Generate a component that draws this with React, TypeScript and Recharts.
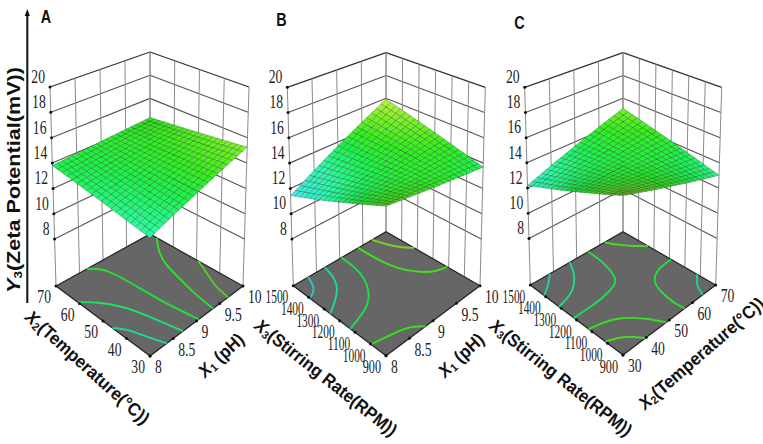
import React from 'react'
import { ScatterChart, Scatter, XAxis, YAxis } from 'recharts'

const W = 763
const H = 444
const Z_FLOOR = 4.3
const Z_TOP = 20

const zTicks = [8, 10, 12, 14, 16, 18, 20]
const phTicks = ['8', '8.5', '9', '9.5', '10']
const tempTicks = ['30', '40', '50', '60', '70']
const rpmTicks = ['900', '1000', '1100', '1200', '1300', '1400', '1500']

// response surface heights, rows go from low to high on the left-hand factor
const surfaceA = [
  [12.80,12.92,13.05,13.17,13.29,13.42,13.54,13.66,13.78,13.91,14.03,14.15,14.28,14.40,14.52,14.65,14.77,14.89,15.01,15.14,15.26],
  [12.85,12.97,13.09,13.20,13.32,13.44,13.56,13.68,13.79,13.91,14.03,14.15,14.27,14.38,14.50,14.62,14.74,14.86,14.97,15.09,15.21],
  [12.90,13.01,13.13,13.24,13.35,13.47,13.58,13.69,13.81,13.92,14.04,14.15,14.26,14.38,14.49,14.60,14.72,14.83,14.94,15.06,15.17],
  [12.95,13.06,13.17,13.28,13.38,13.49,13.60,13.71,13.82,13.93,14.04,14.14,14.25,14.36,14.47,14.58,14.69,14.79,14.90,15.01,15.12],
  [13.00,13.10,13.21,13.31,13.42,13.52,13.62,13.73,13.83,13.94,14.04,14.14,14.25,14.35,14.46,14.56,14.66,14.77,14.87,14.98,15.08],
  [13.05,13.15,13.25,13.35,13.45,13.55,13.64,13.74,13.84,13.94,14.04,14.14,14.24,14.34,14.44,14.54,14.63,14.73,14.83,14.93,15.03],
  [13.10,13.19,13.29,13.38,13.48,13.57,13.67,13.76,13.86,13.95,14.05,14.14,14.23,14.33,14.42,14.52,14.61,14.71,14.80,14.90,14.99],
  [13.15,13.24,13.33,13.42,13.51,13.60,13.69,13.78,13.87,13.96,14.05,14.13,14.22,14.31,14.40,14.49,14.58,14.67,14.76,14.85,14.94],
  [13.20,13.29,13.37,13.46,13.54,13.63,13.71,13.80,13.88,13.97,14.05,14.14,14.22,14.31,14.39,14.48,14.56,14.65,14.73,14.82,14.90],
  [13.25,13.33,13.41,13.49,13.57,13.65,13.73,13.81,13.89,13.97,14.05,14.13,14.21,14.29,14.37,14.45,14.53,14.61,14.69,14.77,14.85],
  [13.30,13.38,13.45,13.53,13.60,13.68,13.75,13.83,13.90,13.98,14.06,14.13,14.21,14.28,14.36,14.43,14.51,14.58,14.66,14.73,14.81],
  [13.35,13.42,13.49,13.56,13.63,13.70,13.77,13.84,13.91,13.98,14.06,14.13,14.20,14.27,14.34,14.41,14.48,14.55,14.62,14.69,14.76],
  [13.40,13.47,13.53,13.60,13.66,13.73,13.79,13.86,13.92,13.99,14.06,14.12,14.19,14.25,14.32,14.38,14.45,14.51,14.58,14.64,14.71],
  [13.45,13.51,13.57,13.63,13.69,13.76,13.82,13.88,13.94,14.00,14.06,14.12,14.18,14.24,14.30,14.37,14.43,14.49,14.55,14.61,14.67],
  [13.50,13.56,13.61,13.67,13.72,13.78,13.84,13.89,13.95,14.00,14.06,14.12,14.17,14.23,14.28,14.34,14.40,14.45,14.51,14.56,14.62],
  [13.55,13.60,13.65,13.70,13.76,13.81,13.86,13.91,13.96,14.01,14.07,14.12,14.17,14.22,14.27,14.32,14.37,14.43,14.48,14.53,14.58],
  [13.60,13.65,13.69,13.74,13.79,13.83,13.88,13.93,13.97,14.02,14.07,14.11,14.16,14.20,14.25,14.30,14.34,14.39,14.44,14.48,14.53],
  [13.65,13.69,13.73,13.78,13.82,13.86,13.90,13.94,13.99,14.03,14.07,14.11,14.15,14.20,14.24,14.28,14.32,14.36,14.41,14.45,14.49],
  [13.70,13.74,13.77,13.81,13.85,13.89,13.92,13.96,14.00,14.03,14.07,14.11,14.14,14.18,14.22,14.26,14.29,14.33,14.37,14.40,14.44],
  [13.75,13.78,13.82,13.85,13.88,13.91,13.95,13.98,14.01,14.04,14.07,14.11,14.14,14.17,14.20,14.24,14.27,14.30,14.33,14.37,14.40],
  [13.80,13.83,13.86,13.88,13.91,13.94,13.97,13.99,14.02,14.05,14.08,14.10,14.13,14.16,14.19,14.21,14.24,14.27,14.30,14.32,14.35],
]

const surfaceB = [
  [15.04,14.97,14.90,14.84,14.77,14.70,14.63,14.56,14.50,14.43,14.36,14.29,14.22,14.16,14.09,14.02,13.95,13.88,13.82,13.75,13.68],
  [14.86,14.81,14.75,14.70,14.65,14.59,14.54,14.49,14.43,14.38,14.33,14.27,14.22,14.16,14.11,14.06,14.00,13.95,13.90,13.84,13.79],
  [14.68,14.64,14.60,14.56,14.52,14.49,14.45,14.41,14.37,14.33,14.29,14.25,14.21,14.17,14.13,14.10,14.06,14.02,13.98,13.94,13.90],
  [14.50,14.48,14.45,14.43,14.40,14.38,14.35,14.33,14.30,14.28,14.26,14.23,14.21,14.18,14.16,14.13,14.11,14.08,14.06,14.03,14.01],
  [14.32,14.31,14.30,14.29,14.28,14.27,14.26,14.25,14.24,14.23,14.22,14.22,14.21,14.20,14.19,14.18,14.17,14.16,14.15,14.14,14.13],
  [14.14,14.15,14.15,14.16,14.16,14.17,14.17,14.18,14.18,14.19,14.19,14.20,14.20,14.21,14.21,14.22,14.22,14.23,14.23,14.24,14.24],
  [13.96,13.98,14.00,14.02,14.04,14.06,14.08,14.10,14.12,14.14,14.16,14.17,14.19,14.21,14.23,14.25,14.27,14.29,14.31,14.33,14.35],
  [13.78,13.81,13.85,13.88,13.92,13.95,13.98,14.02,14.05,14.09,14.12,14.15,14.19,14.22,14.26,14.29,14.32,14.36,14.39,14.43,14.46],
  [13.60,13.65,13.70,13.75,13.79,13.84,13.89,13.94,13.99,14.04,14.09,14.13,14.18,14.23,14.28,14.33,14.38,14.42,14.47,14.52,14.57],
  [13.42,13.48,13.55,13.61,13.67,13.74,13.80,13.86,13.92,13.99,14.05,14.11,14.18,14.24,14.30,14.37,14.43,14.49,14.55,14.62,14.68],
  [13.24,13.32,13.40,13.47,13.55,13.63,13.71,13.79,13.86,13.94,14.02,14.10,14.18,14.25,14.33,14.41,14.49,14.57,14.64,14.72,14.80],
  [13.05,13.14,13.24,13.33,13.42,13.52,13.61,13.70,13.79,13.89,13.98,14.07,14.17,14.26,14.35,14.45,14.54,14.63,14.72,14.82,14.91],
  [12.87,12.98,13.09,13.19,13.30,13.41,13.52,13.62,13.73,13.84,13.95,14.05,14.16,14.27,14.38,14.48,14.59,14.70,14.81,14.91,15.02],
  [12.69,12.81,12.93,13.06,13.18,13.30,13.42,13.54,13.67,13.79,13.91,14.03,14.15,14.28,14.40,14.52,14.64,14.76,14.89,15.01,15.13],
  [12.51,12.65,12.78,12.92,13.06,13.19,13.33,13.47,13.60,13.74,13.88,14.01,14.15,14.28,14.42,14.56,14.69,14.83,14.97,15.10,15.24],
  [12.33,12.48,12.63,12.78,12.93,13.09,13.24,13.39,13.54,13.69,13.84,13.99,14.14,14.29,14.44,14.60,14.75,14.90,15.05,15.20,15.35],
  [12.15,12.32,12.48,12.65,12.81,12.98,13.14,13.31,13.47,13.64,13.81,13.97,14.14,14.30,14.47,14.63,14.80,14.96,15.13,15.29,15.46],
  [11.97,12.15,12.33,12.51,12.69,12.87,13.05,13.23,13.41,13.59,13.78,13.96,14.14,14.32,14.50,14.68,14.86,15.04,15.22,15.40,15.58],
  [11.79,11.99,12.18,12.38,12.57,12.77,12.96,13.16,13.35,13.55,13.74,13.94,14.13,14.33,14.52,14.72,14.91,15.11,15.30,15.50,15.69],
  [11.61,11.82,12.03,12.24,12.45,12.66,12.87,13.08,13.29,13.50,13.71,13.91,14.12,14.33,14.54,14.75,14.96,15.17,15.38,15.59,15.80],
  [11.43,11.65,11.88,12.10,12.33,12.55,12.77,13.00,13.22,13.45,13.67,13.89,14.12,14.34,14.57,14.79,15.01,15.24,15.46,15.69,15.91],
]

const surfaceC = [
  [15.78,15.64,15.50,15.36,15.23,15.09,14.95,14.81,14.67,14.53,14.40,14.26,14.12,13.98,13.84,13.70,13.56,13.43,13.29,13.15,13.01],
  [15.60,15.48,15.35,15.23,15.10,14.98,14.86,14.73,14.61,14.48,14.36,14.24,14.11,13.99,13.86,13.74,13.62,13.49,13.37,13.24,13.12],
  [15.42,15.31,15.20,15.09,14.98,14.87,14.76,14.65,14.54,14.43,14.32,14.21,14.10,13.99,13.88,13.77,13.66,13.55,13.44,13.33,13.22],
  [15.24,15.14,15.05,14.95,14.86,14.76,14.67,14.57,14.48,14.38,14.29,14.19,14.09,14.00,13.90,13.81,13.71,13.62,13.52,13.43,13.33],
  [15.06,14.98,14.90,14.82,14.73,14.65,14.57,14.49,14.41,14.33,14.25,14.16,14.08,14.00,13.92,13.84,13.76,13.68,13.59,13.51,13.43],
  [14.89,14.82,14.75,14.69,14.62,14.55,14.48,14.42,14.35,14.28,14.22,14.15,14.08,14.01,13.95,13.88,13.81,13.74,13.68,13.61,13.54],
  [14.71,14.66,14.60,14.55,14.50,14.44,14.39,14.34,14.28,14.23,14.18,14.12,14.07,14.01,13.96,13.91,13.85,13.80,13.75,13.69,13.64],
  [14.53,14.49,14.45,14.41,14.37,14.34,14.30,14.26,14.22,14.18,14.14,14.10,14.06,14.02,13.98,13.95,13.91,13.87,13.83,13.79,13.75],
  [14.35,14.33,14.30,14.28,14.25,14.23,14.20,14.18,14.15,14.13,14.10,14.08,14.05,14.03,14.00,13.98,13.95,13.93,13.90,13.88,13.85],
  [14.17,14.16,14.15,14.14,14.13,14.12,14.11,14.10,14.09,14.08,14.07,14.05,14.04,14.03,14.02,14.01,14.00,13.99,13.98,13.97,13.96],
  [13.99,13.99,14.00,14.00,14.01,14.01,14.01,14.02,14.02,14.03,14.03,14.03,14.04,14.04,14.05,14.05,14.05,14.06,14.06,14.07,14.07],
  [13.81,13.83,13.85,13.86,13.88,13.90,13.92,13.94,13.95,13.97,13.99,14.01,14.03,14.04,14.06,14.08,14.10,14.12,14.13,14.15,14.17],
  [13.63,13.66,13.70,13.73,13.76,13.79,13.83,13.86,13.89,13.92,13.96,13.99,14.02,14.05,14.09,14.12,14.15,14.18,14.22,14.25,14.28],
  [13.45,13.50,13.54,13.59,13.64,13.68,13.73,13.78,13.82,13.87,13.92,13.96,14.01,14.05,14.10,14.15,14.19,14.24,14.29,14.33,14.38],
  [13.27,13.33,13.39,13.45,13.51,13.58,13.64,13.70,13.76,13.82,13.88,13.94,14.00,14.06,14.12,14.19,14.25,14.31,14.37,14.43,14.49],
  [13.10,13.17,13.25,13.32,13.40,13.47,13.55,13.62,13.70,13.77,13.85,13.92,13.99,14.07,14.14,14.22,14.29,14.37,14.44,14.52,14.59],
  [12.92,13.01,13.10,13.19,13.28,13.37,13.45,13.54,13.63,13.72,13.81,13.90,13.99,14.08,14.17,14.26,14.34,14.43,14.52,14.61,14.70],
  [12.74,12.84,12.95,13.05,13.15,13.26,13.36,13.46,13.56,13.67,13.77,13.87,13.98,14.08,14.18,14.29,14.39,14.49,14.59,14.70,14.80],
  [12.56,12.68,12.80,12.91,13.03,13.15,13.27,13.38,13.50,13.62,13.74,13.85,13.97,14.09,14.21,14.32,14.44,14.56,14.68,14.79,14.91],
  [12.38,12.51,12.64,12.77,12.91,13.04,13.17,13.30,13.43,13.56,13.70,13.83,13.96,14.09,14.22,14.35,14.48,14.62,14.75,14.88,15.01],
  [12.20,12.35,12.49,12.64,12.78,12.93,13.08,13.22,13.37,13.51,13.66,13.81,13.95,14.10,14.24,14.39,14.54,14.68,14.83,14.97,15.12],
]

// contour lines on the floor, [right-hand factor, left-hand factor]
const contoursA = [
  { color: '#4fd01e', points: [[10, 49.2], [9.85, 42], [9.74, 36.2], [9.68, 30]] },
  { color: '#35dd2c', points: [[10, 67.1], [9.77, 61.3], [9.61, 55], [9.51, 47.4], [9.41, 38.2], [9.36, 30]] },
  { color: '#22e038', points: [[8.66, 70], [8.8, 67.4], [8.89, 62], [8.93, 52.8], [8.97, 42.2], [9.05, 30]] },
  { color: '#1fe06a', points: [[8, 60.7], [8.21, 57.1], [8.44, 50.2], [8.58, 41.6], [8.71, 30]] },
  { color: '#1fd8a0', points: [[8, 46], [8.13, 42.5], [8.25, 36.3], [8.36, 30]] },
]
const contoursB = [
  { color: '#7ed321', points: [[9.7, 1500], [9.78, 1428], [9.87, 1372], [10, 1320]] },
  { color: '#3fe020', points: [[9.4, 1500], [9.41, 1406], [9.45, 1310], [9.54, 1229], [9.68, 1164], [9.84, 1126], [10, 1110]] },
  { color: '#22dc4a', points: [[9.04, 1500], [9.02, 1416], [8.94, 1328], [8.77, 1246], [8.48, 1178], [8, 1131]] },
  { color: '#1fd8a0', points: [[8.68, 1500], [8.6, 1418], [8.39, 1337], [8, 1260]] },
  { color: '#27c9c4', points: [[8.32, 1500], [8.2, 1429], [8, 1392]] },
  { color: '#35e01e', points: [[8, 998], [8.28, 980], [8.62, 953], [8.84, 900]] },
]
const contoursC = [
  { color: '#3fe020', points: [[62.1, 1500], [64.4, 1438], [67.6, 1378], [70, 1338]] },
  { color: '#22dc4a', points: [[54.9, 1500], [54.7, 1421], [53.5, 1338], [51.3, 1270], [46.6, 1235], [38.3, 1219], [30, 1218]] },
  { color: '#1fdc8a', points: [[47, 1500], [43.7, 1423], [37.6, 1348], [30, 1314]] },
  { color: '#27c9b0', points: [[38.4, 1500], [34.2, 1449], [30, 1410]] },
  { color: '#25e03a', points: [[70, 1188], [64.6, 1181], [59.6, 1139], [57.2, 1060], [56.4, 972], [56.6, 900]] },
  { color: '#1fd48a', points: [[70, 1020], [66.5, 966], [64.4, 900]] },
  { color: '#35e01e', points: [[30, 1122], [35.1, 1106], [39.2, 1081], [43.1, 1032], [46.2, 970], [48.6, 900]] },
  { color: '#45e01e', points: [[30, 1014], [34.3, 986], [37.4, 946], [39.6, 900]] },
]

const HEIGHT_COLORS: [number, number[]][] = [
  [11, [80, 225, 255]],
  [12.2, [50, 240, 205]],
  [13, [45, 248, 155]],
  [13.8, [30, 240, 75]],
  [14.4, [55, 238, 30]],
  [15.2, [130, 240, 40]],
  [16, [195, 245, 60]],
]

const heightColor = (z: number, shade: number) => {
  let i = 0
  while (i < HEIGHT_COLORS.length - 2 && z > HEIGHT_COLORS[i + 1][0]) i++
  const [z0, c0] = HEIGHT_COLORS[i]
  const [z1, c1] = HEIGHT_COLORS[i + 1]
  const t = Math.max(0, Math.min(1, (z - z0) / (z1 - z0)))
  return `rgb(${c0.map((c, k) => Math.round((c + (c1[k] - c) * t) * shade)).join(',')})`
}

type Pt = number[]
type Box = { floor: Record<string, Pt>; top: Record<string, Pt> }

const PANELS = [
  {
    letter: 'A', letterAt: [46, 16],
    box: {
      floor: { f: [150, 356], r: [243, 286], l: [56, 286], b: [150, 234] },
      top: { f: [150, 138], r: [249, 87], l: [50, 87], b: [150, 52] },
    },
    surface: surfaceA, contours: contoursA,
    uDomain: [8, 10], vDomain: [30, 70], uTicks: phTicks, vTicks: tempTicks,
    uTitle: { at: [201, 374], angle: -43, len: 55, main: 'X', sub: '1', rest: ' (pH)' },
    vTitle: { at: [28, 314], angle: 42, len: 160, main: 'X', sub: '2', rest: '(Temperature(°C))' },
  },
  {
    letter: 'B', letterAt: [281.5, 19],
    box: {
      floor: { f: [386, 355.7], r: [480, 285.7], l: [293.3, 285.7], b: [386, 231.7] },
      top: { f: [386, 137], r: [485.3, 87.3], l: [287.3, 87.3], b: [386, 52.7] },
    },
    surface: surfaceB, contours: contoursB,
    uDomain: [8, 10], vDomain: [900, 1500], uTicks: phTicks, vTicks: rpmTicks,
    uTitle: { at: [441, 374], angle: -43, len: 55, main: 'X', sub: '1', rest: ' (pH)' },
    vTitle: { at: [257, 323], angle: 38.5, len: 176, main: 'X', sub: '3', rest: '(Stirring Rate(RPM))' },
  },
  {
    letter: 'C', letterAt: [519.5, 22],
    box: {
      floor: { f: [623, 355], r: [715.7, 285], l: [530.3, 285], b: [623, 231.7] },
      top: { f: [623, 137], r: [721.7, 87.3], l: [524.7, 87.3], b: [623, 52.7] },
    },
    surface: surfaceC, contours: contoursC,
    uDomain: [30, 70], vDomain: [900, 1500], uTicks: tempTicks, vTicks: rpmTicks,
    uTitle: { at: [641, 406], angle: -41, len: 160, main: 'X', sub: '2', rest: '(Temperature(°C))' },
    vTitle: { at: [492, 323], angle: 38.5, len: 176, main: 'X', sub: '3', rest: '(Stirring Rate(RPM))' },
  },
]

const project = (box: Box, u: number, v: number, z: number) => {
  const corner = (c: Record<string, Pt>, k: number) =>
    (1 - u) * (1 - v) * c.f[k] + u * (1 - v) * c.r[k] + (1 - u) * v * c.l[k] + u * v * c.b[k]
  const w = (z - Z_FLOOR) / (Z_TOP - Z_FLOOR)
  return {
    x: corner(box.floor, 0) * (1 - w) + corner(box.top, 0) * w,
    y: corner(box.floor, 1) * (1 - w) + corner(box.top, 1) * w,
  }
}

// axes below are 1:1 with pixels, so offsets from the scaled anchor can be added to cx/cy
function PolygonMark({ cx, cy, payload }: any) {
  const pts = payload.poly.map((p: Pt) => `${cx + p[0]},${cy + p[1]}`).join(' ')
  return <polygon points={pts} fill={payload.fill} stroke={payload.stroke} strokeWidth={payload.sw} strokeOpacity={payload.so ?? 1} />
}

function DotMark({ cx, cy }: any) {
  return <circle cx={cx} cy={cy} r={1.5} fill="#111" />
}

function TickMark({ cx, cy, payload }: any) {
  const n = payload.label.length
  const sx = n === 4 ? 0.6 : n === 3 && payload.label !== '8.5' && payload.label !== '9.5' ? 0.64 : 0.72
  return (
    <text
      transform={`translate(${cx + payload.dx},${cy + payload.dy}) scale(${sx},1)`}
      textAnchor={payload.anchor}
      dominantBaseline="central"
      fontFamily="'Liberation Serif', serif"
      fontSize={19}
      fill="#222"
    >
      {payload.label}
    </text>
  )
}

function TitleMark({ cx, cy, payload }: any) {
  const size = payload.size ?? 18
  return (
    <text
      transform={`translate(${cx},${cy}) rotate(${payload.angle})`}
      dominantBaseline="central"
      fontFamily="'Liberation Sans', sans-serif"
      fontWeight={700}
      fontSize={size}
      fill="#111"
      textLength={payload.len}
      lengthAdjust="spacingAndGlyphs"
    >
      <tspan fontStyle="italic">{payload.main}</tspan>
      <tspan fontSize={size * 0.62} dy={4}>{payload.sub}</tspan>
      <tspan dy={-4}>{payload.rest}</tspan>
    </text>
  )
}

function LetterMark({ cx, cy, payload }: any) {
  return (
    <text
      transform={`translate(${cx},${cy}) scale(0.8,1)`}
      textAnchor="middle"
      dominantBaseline="central"
      fontFamily="'Liberation Sans', sans-serif"
      fontWeight={700}
      fontSize={18}
      fill="#111"
    >
      {payload.letter}
    </text>
  )
}

const NoMark = () => <g />

const frac = (i: number, n: number) => (n === 1 ? 0 : i / (n - 1))

function wallLines(box: Box, uCount: number, vCount: number) {
  const lines: { pts: { x: number; y: number }[]; stroke: string; width: number }[] = []
  zTicks.forEach(z => {
    const stroke = z === 20 ? '#333' : '#555'
    const width = z === 20 ? 1.3 : 1.1
    lines.push({ pts: [project(box, 0, 1, z), project(box, 1, 1, z)], stroke, width })
    lines.push({ pts: [project(box, 1, 1, z), project(box, 1, 0, z)], stroke, width })
  })
  for (let i = 0; i < uCount; i++) {
    const u = frac(i, uCount)
    lines.push({ pts: [project(box, u, 1, Z_FLOOR), project(box, u, 1, Z_TOP)], stroke: '#8a8a8a', width: 1 })
  }
  for (let i = 0; i < vCount; i++) {
    const v = frac(i, vCount)
    lines.push({ pts: [project(box, 1, v, Z_FLOOR), project(box, 1, v, Z_TOP)], stroke: '#8a8a8a', width: 1 })
  }
  return lines
}

function surfaceCells(box: Box, surface: number[][]) {
  const n = surface.length - 1
  const cells: any[] = []
  for (let j = n - 1; j >= 0; j--) {
    for (let i = n - 1; i >= 0; i--) {
      const a = project(box, i / n, j / n, surface[j][i])
      const b = project(box, (i + 1) / n, j / n, surface[j][i + 1])
      const c = project(box, (i + 1) / n, (j + 1) / n, surface[j + 1][i + 1])
      const d = project(box, i / n, (j + 1) / n, surface[j + 1][i])
      const mean = (surface[j][i] + surface[j][i + 1] + surface[j + 1][i + 1] + surface[j + 1][i]) / 4
      // cells seen at a shallow angle come out darker in the reference
      const area = Math.abs((c.x - a.x) * (d.y - b.y) - (d.x - b.x) * (c.y - a.y)) / 2
      const shade = 0.7 + 0.3 * Math.min(1, area / 24)
      cells.push({
        x: a.x,
        y: a.y,
        poly: [[0, 0], [b.x - a.x, b.y - a.y], [c.x - a.x, c.y - a.y], [d.x - a.x, d.y - a.y]],
        fill: heightColor(mean, shade),
        stroke: '#0b3a18',
        sw: 0.55,
        so: 0.5,
      })
    }
  }
  return cells
}

const axisLine = [{ x: 27.3, y: 303 }, { x: 27.3, y: 13 }]
const yTitle = [{ x: 13.5, y: 293, angle: -90, len: 226, size: 18, main: 'Y', sub: '3', rest: '(Zeta Potential(mV))' }]

export default function App() {
  return (
    <div style={{ position: 'absolute', left: 0, top: 0, width: W, height: H, background: '#fff' }}>
      <ScatterChart width={W} height={H} margin={{ top: 0, right: 0, bottom: 0, left: 0 }}>
        <XAxis type="number" dataKey="x" domain={[0, W]} hide />
        <YAxis type="number" dataKey="y" domain={[0, H]} reversed hide />

        <Scatter data={axisLine} shape={NoMark} line={{ stroke: '#111', strokeWidth: 2 }} isAnimationActive={false} />
        <Scatter
          data={[{ x: 27.3, y: 9, poly: [[0, 0], [2.6, 7], [-2.6, 7]], fill: '#111', stroke: 'none', sw: 0 }]}
          shape={PolygonMark}
          isAnimationActive={false}
        />
        <Scatter data={yTitle} shape={TitleMark} isAnimationActive={false} />

        {PANELS.map(p => {
          const box = p.box as Box
          const uN = p.uTicks.length
          const vN = p.vTicks.length
          const [uMin, uMax] = p.uDomain
          const [vMin, vMax] = p.vDomain
          const f = box.floor
          const floorAnchor = { x: f.f[0], y: f.f[1] }
          return (
            <React.Fragment key={p.letter}>
              {wallLines(box, uN, vN).map((l, i) => (
                <Scatter
                  key={`${p.letter}-wall-${i}`}
                  data={l.pts}
                  shape={NoMark}
                  line={{ stroke: l.stroke, strokeWidth: l.width }}
                  isAnimationActive={false}
                />
              ))}
              <Scatter
                data={[{
                  ...floorAnchor,
                  poly: [[0, 0], [f.r[0] - f.f[0], f.r[1] - f.f[1]], [f.b[0] - f.f[0], f.b[1] - f.f[1]], [f.l[0] - f.f[0], f.l[1] - f.f[1]]],
                  fill: '#666666',
                  stroke: '#222',
                  sw: 1.2,
                }]}
                shape={PolygonMark}
                isAnimationActive={false}
              />
              {p.contours.map((c, i) => (
                <Scatter
                  key={`${p.letter}-contour-${i}`}
                  data={c.points.map(([a, b]) => project(box, (a - uMin) / (uMax - uMin), (b - vMin) / (vMax - vMin), Z_FLOOR))}
                  shape={NoMark}
                  line={{ stroke: c.color, strokeWidth: 1.9 }}
                  lineJointType="natural"
                  isAnimationActive={false}
                />
              ))}
              <Scatter data={surfaceCells(box, p.surface)} shape={PolygonMark} isAnimationActive={false} />
              <Scatter
                data={[
                  ...zTicks.map(z => project(box, 0, 1, z)),
                  ...p.uTicks.map((_, i) => project(box, frac(i, uN), 0, Z_FLOOR)),
                  ...p.vTicks.map((_, i) => project(box, 0, frac(i, vN), Z_FLOOR)),
                ]}
                shape={DotMark}
                isAnimationActive={false}
              />
              <Scatter
                data={zTicks.map(z => ({ ...project(box, 0, 1, z), label: String(z), dx: -5, dy: -10.5, anchor: 'end' }))}
                shape={TickMark}
                isAnimationActive={false}
              />
              <Scatter
                data={p.uTicks.map((t, i) => ({ ...project(box, frac(i, uN), 0, Z_FLOOR), label: t, dx: 5, dy: 11, anchor: 'start' }))}
                shape={TickMark}
                isAnimationActive={false}
              />
              <Scatter
                data={p.vTicks.map((t, i) => ({ ...project(box, 0, frac(i, vN), Z_FLOOR), label: t, dx: -5, dy: 11, anchor: 'end' }))}
                shape={TickMark}
                isAnimationActive={false}
              />
              <Scatter
                data={[{ x: p.uTitle.at[0], y: p.uTitle.at[1], ...p.uTitle }, { x: p.vTitle.at[0], y: p.vTitle.at[1], ...p.vTitle }]}
                shape={TitleMark}
                isAnimationActive={false}
              />
              <Scatter
                data={[{ x: p.letterAt[0], y: p.letterAt[1], letter: p.letter }]}
                shape={LetterMark}
                isAnimationActive={false}
              />
            </React.Fragment>
          )
        })}
      </ScatterChart>
    </div>
  )
}
